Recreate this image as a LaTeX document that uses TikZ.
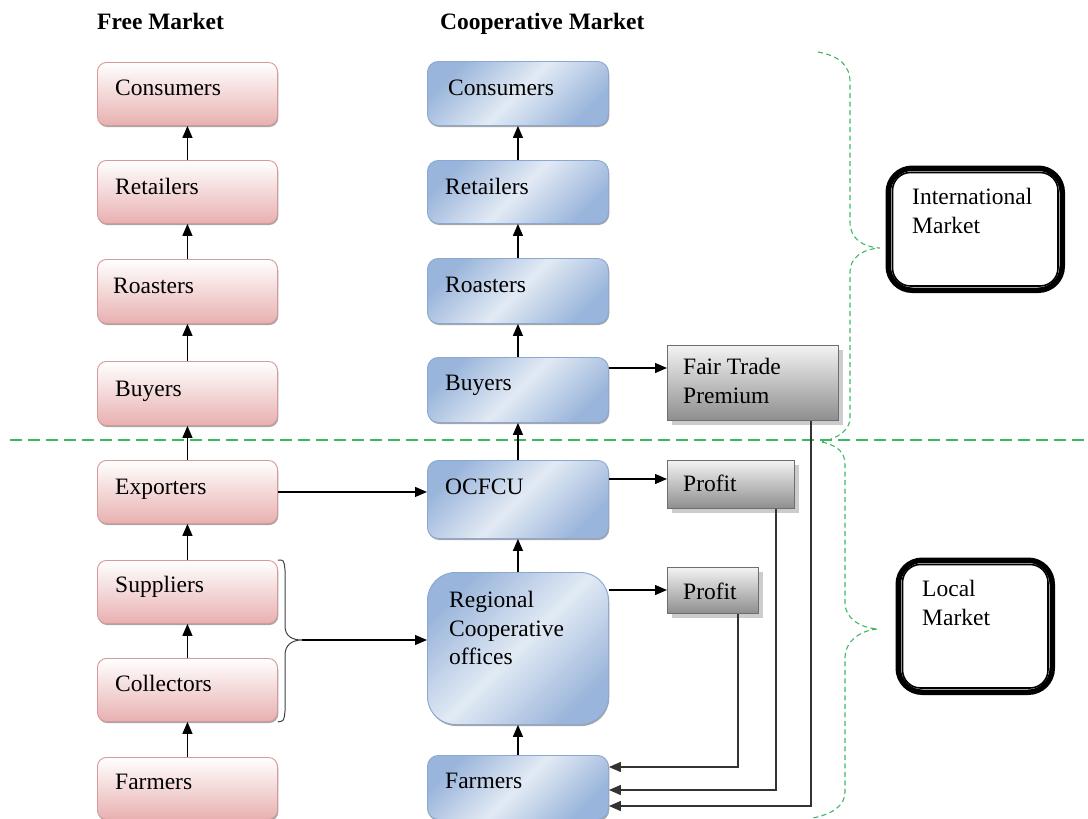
\documentclass[tikz,border=0pt]{standalone}
\usepackage{fontspec}
\setmainfont{LiberationSerif}[Extension=.ttf, UprightFont=*-Regular, BoldFont=*-Bold, ItalicFont=*-Italic, BoldItalicFont=*-BoldItalic]
\usetikzlibrary{arrows.meta,shadows,calc}
\definecolor{pinkedge}{HTML}{D69A9A}
\definecolor{pinkfill}{HTML}{E8B0B0}
\definecolor{blueedge}{HTML}{8AA8D2}
\definecolor{bluefill}{HTML}{9AB5DB}
\definecolor{bluemid}{HTML}{E2EAF4}
\definecolor{greyedge}{HTML}{6E6E6E}
\definecolor{greyfill}{HTML}{8E8E8E}
\definecolor{dgreen}{HTML}{3DB862}
\pgfdeclarehorizontalshading{bluediag}{100bp}{color(0bp)=(bluefill); color(25bp)=(bluefill); color(50bp)=(bluemid); color(75bp)=(bluefill); color(100bp)=(bluefill)}
\begin{document}
\begin{tikzpicture}[x=1pt,y=-1pt,
  txt/.style={font=\fontsize{23.5}{28.5}\selectfont, inner sep=0pt, anchor=base west, text=black},
  mtxt/.style={font=\fontsize{23.5}{28.5}\selectfont, inner sep=0pt, anchor=north west, align=left, text=black},
  head/.style={font=\fontsize{23.5}{28.5}\selectfont\bfseries, inner sep=0pt, anchor=base west},
  pbox/.style={draw=pinkedge, line width=0.9pt, rounded corners=9pt, top color=white, bottom color=pinkfill,
    minimum width=180pt, anchor=north west, inner sep=0pt,
    drop shadow={shadow xshift=0.8pt, shadow yshift=-1.6pt, fill=black, opacity=0.35}},
  bbox/.style={draw=blueedge, line width=0.9pt, rounded corners=11pt, shading=bluediag, shading angle=-45,
    minimum width=181pt, anchor=north west, inner sep=0pt,
    drop shadow={shadow xshift=0.8pt, shadow yshift=-1.6pt, fill=black, opacity=0.35}},
  gbox/.style={draw=greyedge, line width=1pt, top color=white!95!black, bottom color=greyfill,
    anchor=north west, inner sep=0pt,
    drop shadow={shadow xshift=4pt, shadow yshift=-4pt, fill=black, opacity=0.2}},
  mkt/.style={draw=black, line width=5.5pt, rounded corners=24pt, anchor=north west, inner sep=0pt, fill=white},
  arr/.style={-{Triangle[length=12pt,width=10pt]}, line width=1.3pt, black},
  fb/.style={-{Triangle[length=12pt,width=10pt]}, line width=1.3pt, black!80},
  brace/.style={draw=dgreen, line width=1.1pt, dash pattern=on 5pt off 3.5pt},
]
\useasboundingbox (0,0) rectangle (1088,819);

% headers
\node[head] (hFree) at (97,30) {Free Market};
\node[head] (hCoop) at (440,30) {Cooperative Market};

% free market column
\node[pbox, minimum height=63pt] (pCon) at (97,62) {};
\node[pbox, minimum height=63pt] (pRet) at (97,160) {};
\node[pbox, minimum height=64pt] (pRoa) at (97,259) {};
\node[pbox, minimum height=64pt] (pBuy) at (97,361) {};
\node[pbox, minimum height=63pt] (pExp) at (97,460) {};
\node[pbox, minimum height=63pt] (pSup) at (97,560) {};
\node[pbox, minimum height=63pt] (pCol) at (97,658) {};
\node[pbox, minimum height=62pt] (pFar) at (97,757) {};
\node[txt] (tpCon) at (115,95) {Consumers};
\node[txt] (tpRet) at (115,194) {Retailers};
\node[txt] (tpRoa) at (113,293) {Roasters};
\node[txt] (tpBuy) at (115,396) {Buyers};
\node[txt] (tpExp) at (115,494) {Exporters};
\node[txt] (tpSup) at (115,592) {Suppliers};
\node[txt] (tpCol) at (115,691) {Collectors};
\node[txt] (tpFar) at (115,789) {Farmers};

% cooperative column
\node[bbox, minimum height=64pt] (cCon) at (427,61) {};
\node[bbox, minimum height=63pt] (cRet) at (427,160) {};
\node[bbox, minimum height=65pt] (cRoa) at (427,258) {};
\node[bbox, minimum height=65pt] (cBuy) at (427,357) {};
\node[bbox, minimum height=78pt] (cOC) at (427,460) {};
\node[bbox, minimum height=152pt, rounded corners=28pt] (cReg) at (427,572) {};
\node[bbox, minimum height=64pt] (cFar) at (427,755) {};
\node[txt] (tcCon) at (448,95) {Consumers};
\node[txt] (tcRet) at (445,194) {Retailers};
\node[txt] (tcRoa) at (445,292) {Roasters};
\node[txt] (tcBuy) at (445,390) {Buyers};
\node[txt] (tcOC) at (445,494) {OCFCU};
\node[mtxt] (tcReg) at (449,591) {Regional\\Cooperative\\offices};
\node[txt] (tcFar) at (445,788) {Farmers};

% grey boxes
\node[gbox, minimum width=171pt, minimum height=75pt] (ftp) at (667,345) {};
\node[gbox, minimum width=127pt, minimum height=48pt] (pr1) at (667,460) {};
\node[gbox, minimum width=91pt, minimum height=46pt] (pr2) at (667,567) {};
\node[mtxt] (tftp) at (683,358) {Fair Trade\\Premium};
\node[txt] (tpr1) at (683,491) {Profit};
\node[txt] (tpr2) at (683,599) {Profit};

% market boxes
\node[mkt, minimum width=174pt, minimum height=122pt] (intl) at (885.5,165.5) {};
\draw[line width=1.6pt, rounded corners=18pt] ($(intl.north west)+(7,7)$) rectangle ($(intl.south east)+(-7,-7)$);
\node[mtxt] (tintl) at (912,188) {International\\Market};
\node[mkt, minimum width=154pt, minimum height=132pt] (locm) at (895.5,557.5) {};
\draw[line width=1.6pt, rounded corners=18pt] ($(locm.north west)+(7,7)$) rectangle ($(locm.south east)+(-7,-7)$);
\node[mtxt] (tlocm) at (922,580) {Local\\Market};

% green dashed separator and braces
\draw[draw=dgreen, line width=1.2pt, dash pattern=on 12pt off 6pt] (10,440) -- (1085,440);
\draw[brace] (818,52) .. controls (840,56) and (850,66) .. (850,82) -- (850,222)
  .. controls (850,238) and (862,247) .. (880,248)
  .. controls (862,249) and (850,258) .. (850,272) -- (850,418)
  .. controls (850,430) and (838,438) .. (822,442);
\draw[brace] (822,442) .. controls (838,446) and (845,452) .. (845,465) -- (845,603)
  .. controls (845,618) and (860,628) .. (878,629)
  .. controls (860,630) and (845,642) .. (845,657) -- (845,792)
  .. controls (845,806) and (832,814) .. (813,818);

% free market arrows
\draw[arr] (pRet.north) -- (pCon.south);
\draw[arr] (pRoa.north) -- (pRet.south);
\draw[arr] (pBuy.north) -- (pRoa.south);
\draw[arr] (pExp.north) -- (pBuy.south);
\draw[arr] (pSup.north) -- (pExp.south);
\draw[arr] (pCol.north) -- (pSup.south);
\draw[arr] (pFar.north) -- (pCol.south);

% cooperative arrows
\draw[arr] (cRet.north) -- (cCon.south);
\draw[arr] (cRoa.north) -- (cRet.south);
\draw[arr] (cBuy.north) -- (cRoa.south);
\draw[arr] (cOC.north) -- (cBuy.south);
\draw[arr] (cReg.north) -- (cOC.south);
\draw[arr] (cFar.north) -- (cReg.south);

% cross links
\draw[arr] (pExp.east) -- (pExp.east -| cOC.west);
\draw[black!75, line width=1pt] (pSup.north east) .. controls (284,560) .. (285,570) -- (285,626)
  .. controls (285,636) and (292,640) .. (302,640) coordinate (tip)
  .. controls (292,640) and (285,645) .. (285,655) -- (285,711)
  .. controls (284,721) .. (pCol.south east);
\draw[arr] (tip) -- (tip -| cReg.west);

\coordinate (b1) at ($(cBuy.north east)+(0,11)$);
\draw[arr] (b1) -- (b1 -| ftp.west);
\coordinate (b2) at ($(cOC.north east)+(0,19)$);
\draw[arr] (b2) -- (b2 -| pr1.west);
\coordinate (b3) at ($(cReg.north east)+(0,18)$);
\draw[arr] (b3) -- (b3 -| pr2.west);

% feedback to farmers
\draw[fb] ($(pr2.south east)+(-21,0)$) |- ($(cFar.north east)+(0,12)$);
\draw[fb] ($(pr1.south east)+(-19,0)$) |- ($(cFar.north east)+(0,35)$);
\draw[fb] ($(ftp.south east)+(-28,0)$) |- ($(cFar.north east)+(0,51)$);
\end{tikzpicture}
\end{document}
